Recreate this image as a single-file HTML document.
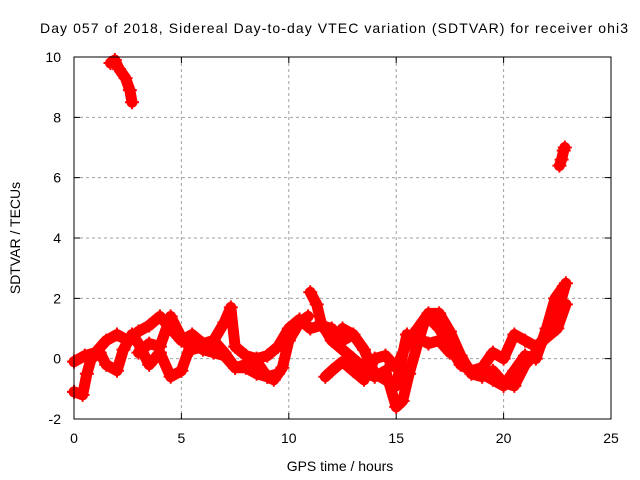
<!DOCTYPE html>
<html><head><meta charset="utf-8"><style>
html,body{margin:0;padding:0;background:#fff}
svg{display:block;font-family:"Liberation Sans",sans-serif}
</style></head><body>
<svg id="chart" width="640" height="480" viewBox="0 0 640 480">
<rect width="640" height="480" fill="#fff"/>
<text x="334" y="33" text-anchor="middle" font-size="14" textLength="588">Day 057 of 2018, Sidereal Day-to-day VTEC variation (SDTVAR) for receiver ohi3</text>
<g id="grid"></g>
<g id="axes"></g>
<g id="series"></g>
<rect x="74" y="57" width="537" height="362" fill="none" stroke="#000" stroke-width="1"/>
<text x="340" y="471" text-anchor="middle" font-size="14">GPS time / hours</text>
<text transform="translate(20,238) rotate(-90)" text-anchor="middle" font-size="14">SDTVAR / TECUs</text>
</svg>
<script>
const xTicks=[0,5,10,15,20,25];
const yTicks=[-2,0,2,4,6,8,10];
const trackTop=[[1.7,9.8],[1.9,9.9],[2.1,9.6],[2.4,9.3],[2.6,8.9],[2.7,8.5]];
const trackRight=[[22.6,6.4],[22.7,6.6],[22.8,6.9],[22.85,7.0]];
const track1=[[0,-1.1],[0.4,-1.2],[0.6,-0.5],[0.8,0],[1.2,0.2],[1.5,-0.2],[2,-0.4],[2.3,0.3],[2.7,0.8],[3,0.5],[3.5,-0.2],[4,0.2],[4.5,-0.6],[5,-0.4],[5.5,0.6],[6,0.3],[6.5,0.2],[7,0.1],[7.5,-0.3],[8,-0.2],[8.5,-0.1],[9,-0.6],[9.3,-0.7],[9.7,-0.3],[10,0.6],[10.5,1.2],[10.9,1.4]];
const track2=[[0,-0.1],[0.5,0.1],[1,0.2],[1.5,0.6],[2,0.8],[2.5,0.6],[3,0.9],[3.5,1.1],[4,1.4],[4.5,1.0],[5,0.6],[5.5,0.8],[6,0.5],[6.5,0.6],[7,1.2],[7.3,1.7],[7.5,0.4],[8,0.1],[8.5,0.0],[9,0.1],[9.5,0.4],[10,1.0],[10.5,1.3],[11,1.0],[11.5,1.1],[12,1.0],[12.5,0.6],[13,0.8]];
const track3=[[3,0.2],[3.5,0.5],[4,0.4],[4.5,1.4],[5,0.7],[5.5,0.3],[6,0.4],[6.5,0.6],[7,0.2],[7.5,-0.3],[8,-0.3],[8.5,-0.5],[9,-0.6],[9.5,-0.5]];
const track4=[[11,2.2],[11.3,1.8],[11.5,1.2],[12,0.6],[12.5,0.3],[13,0.0],[13.5,-0.3],[14,-0.6],[14.5,-0.4],[15,-1.6],[15.3,-1.4],[15.6,-0.5],[16,0.5],[16.3,1.2],[16.6,1.3],[17,1.0],[17.5,0.4],[18,-0.2],[18.5,-0.4],[19,-0.3],[19.5,0.2],[20,0.0],[20.5,0.8],[21,0.6],[21.5,0.4],[22,0.7],[22.5,1.0],[22.9,1.8]];
const track5=[[11.7,-0.6],[12,-0.4],[12.5,-0.1],[13,-0.4],[13.5,-0.7],[14,0.0],[14.5,0.1],[15,-0.3],[15.5,0.5],[16,1.0],[16.5,1.5],[17,1.5],[17.5,0.9],[18,0.1],[18.5,-0.5],[19,-0.6],[19.5,-0.4],[20,-0.8],[20.5,-0.9],[21,-0.2],[21.5,0.2],[22,0.8],[22.5,1.5],[22.9,2.5]];
const track6=[[12.5,1.0],[13,0.8],[13.5,0.3],[14,-0.5],[14.5,-0.7],[15,-0.9],[15.5,0.8],[16,0.7],[16.5,0.5],[17,0.6],[17.5,0.2]];
const track7=[[19,-0.5],[19.5,-0.7],[20,-0.9],[20.5,-0.4],[21,0.1],[21.5,0.0],[22,1.0],[22.4,2.0],[22.8,2.4]];
const tracks=[trackTop,trackRight,track1,track2,track3,track4,track5,track6,track7];

const X0=74,X1=611,Y0=419,Y1=57,xMin=0,xMax=25,yMin=-2,yMax=10;
function sx(t){return X0+(t-xMin)/(xMax-xMin)*(X1-X0);}
function sy(v){return Y0-(v-yMin)/(yMax-yMin)*(Y0-Y1);}
const NS="http://www.w3.org/2000/svg";
function mk(tag,attrs,parent){const e=document.createElementNS(NS,tag);for(const k in attrs)e.setAttribute(k,attrs[k]);parent.appendChild(e);return e;}
const grid=document.getElementById('grid'),axes=document.getElementById('axes'),series=document.getElementById('series');
xTicks.forEach(t=>{
  const x=sx(t);
  if(t>xMin&&t<xMax){const g=mk('line',{x1:x,y1:Y1,x2:x,y2:Y0,stroke:'#a0a0a0','stroke-dasharray':'3,3'},grid);
  
  }
  const tk=mk('path',{d:`M${x},${Y0}v-6M${x},${Y1}v6`,stroke:'#000'},axes);
  
  
  const lb=mk('text',{x:x,y:443,'text-anchor':'middle','font-size':'14'},axes);lb.textContent=t;
  
  
});
yTicks.forEach(v=>{
  const y=sy(v);
  if(v>yMin&&v<yMax){const g=mk('line',{x1:X0,y1:y,x2:X1,y2:y,stroke:'#a0a0a0','stroke-dasharray':'3,3'},grid);
  
  }
  const tk=mk('path',{d:`M${X0},${y}h6M${X1},${y}h-6`,stroke:'#000'},axes);
  
  
  const lb=mk('text',{x:61,y:y+5,'text-anchor':'end','font-size':'14'},axes);lb.textContent=v;
  
  
});
tracks.forEach(tr=>{
  const pts=tr.map(p=>sx(p[0])+','+sy(p[1])).join(' ');
  const pl=mk('polyline',{points:pts,fill:'none',stroke:'#ff0000','stroke-width':'11','stroke-linejoin':'round','stroke-linecap':'round'},series);
  
  
  tr.forEach(p=>{
    const x=sx(p[0]),y=sy(p[1]);
    const m=mk('path',{d:`M${x-7},${y}h14M${x},${y-7}v14`,stroke:'#ff0000','stroke-width':'2'},series);
    
    
  });
});
</script>
</body></html>
